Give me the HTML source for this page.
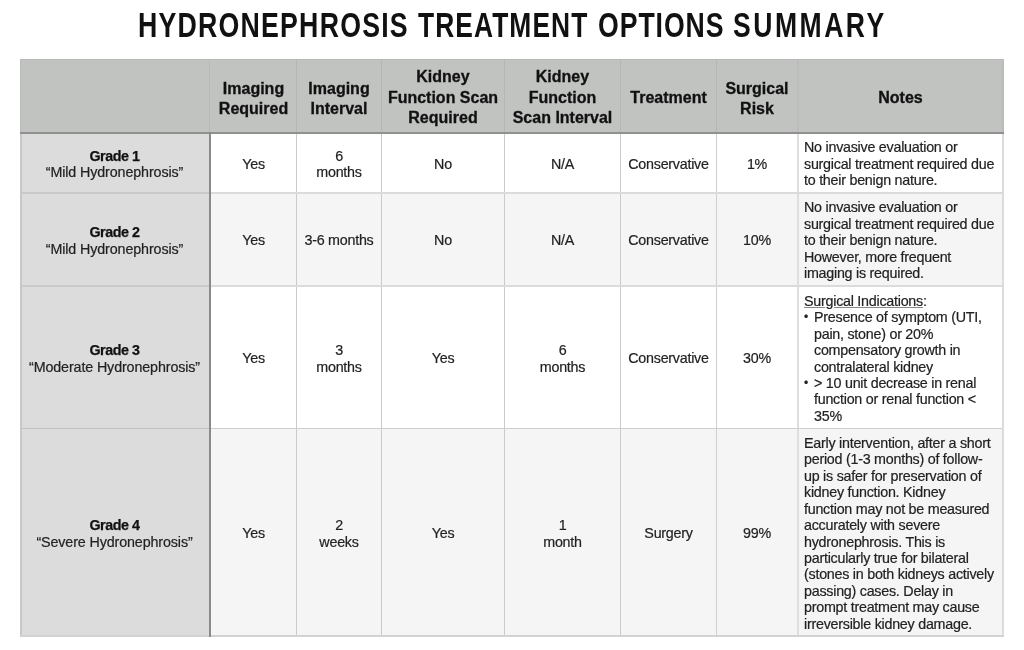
<!DOCTYPE html>
<html><head><meta charset="utf-8">
<style>
html,body{margin:0;padding:0;background:#fff;width:1024px;height:650px;overflow:hidden;position:relative;font-family:"Liberation Sans",sans-serif;-webkit-font-smoothing:antialiased;}
.tw{position:absolute;top:-0.5px;white-space:nowrap;font-weight:bold;font-size:34.5px;line-height:50px;color:#111;transform:scaleX(0.765);transform-origin:0 0;}
.bg{position:absolute;}
.ln{position:absolute;}
.c{position:absolute;display:flex;align-items:center;justify-content:center;text-align:center;color:#222;font-size:14.3px;letter-spacing:-0.25px;line-height:16.45px;-webkit-text-stroke:0.2px #222;padding-top:0px;box-sizing:border-box;}
.h{font-weight:bold;font-size:16px;letter-spacing:0;line-height:20.5px;color:#111;-webkit-text-stroke:0.3px #111;}
.n{justify-content:flex-start;text-align:left;}
.n>div{padding-left:6px;}
.bl{position:relative;padding-left:10px;}
.bu{position:absolute;left:0;top:0;font-size:12px;}
b{font-weight:bold;color:#111;letter-spacing:-0.45px;-webkit-text-stroke:0.25px #111;}
.q{letter-spacing:-0.12px;}
u{text-decoration:underline;text-decoration-color:#888;text-underline-offset:1px;}
#w{position:absolute;left:0;top:0;width:1024px;height:650px;will-change:transform;}
</style></head><body><div id="w">
<div class="tw" style="left:138.0px;letter-spacing:1.58px;transform:scaleX(0.774)">HYDRONEPHROSIS</div>
<div class="tw" style="left:418.2px;letter-spacing:1.40px">TREATMENT</div>
<div class="tw" style="left:597.5px;letter-spacing:1.23px;transform:scaleX(0.772)">OPTIONS</div>
<div class="tw" style="left:733px;letter-spacing:3.24px;transform:scaleX(0.77)">SUMMARY</div>

<!-- backgrounds -->
<div class="bg" style="left:20px;top:59px;width:984px;height:74px;background:#c1c3c1"></div>
<div class="bg" style="left:20px;top:133px;width:190px;height:504px;background:#dcdcdc"></div>
<div class="bg" style="left:211px;top:133px;width:793px;height:60px;background:#ffffff"></div>
<div class="bg" style="left:211px;top:193px;width:793px;height:93px;background:#f5f5f5"></div>
<div class="bg" style="left:211px;top:286px;width:793px;height:143px;background:#ffffff"></div>
<div class="bg" style="left:211px;top:429px;width:793px;height:208px;background:#f5f5f5"></div>

<!-- header vertical lines -->
<div class="ln" style="left:209px;top:59px;width:1px;height:74px;background:#b8b8b8"></div>
<div class="ln" style="left:296px;top:59px;width:1px;height:74px;background:#b5b5b5"></div>
<div class="ln" style="left:381px;top:59px;width:1px;height:74px;background:#b5b5b5"></div>
<div class="ln" style="left:504px;top:59px;width:1px;height:74px;background:#b5b5b5"></div>
<div class="ln" style="left:620px;top:59px;width:1px;height:74px;background:#b5b5b5"></div>
<div class="ln" style="left:716px;top:59px;width:1px;height:74px;background:#b5b5b5"></div>
<div class="ln" style="left:797px;top:59px;width:2px;height:74px;background:#bbbcbb"></div>
<!-- body vertical lines -->
<div class="ln" style="left:296px;top:133px;width:1px;height:504px;background:#cacaca"></div>
<div class="ln" style="left:381px;top:133px;width:1px;height:504px;background:#cacaca"></div>
<div class="ln" style="left:504px;top:133px;width:1px;height:504px;background:#cacaca"></div>
<div class="ln" style="left:620px;top:133px;width:1px;height:504px;background:#cacaca"></div>
<div class="ln" style="left:716px;top:133px;width:1px;height:504px;background:#cfcfcf"></div>
<div class="ln" style="left:797px;top:133px;width:2px;height:504px;background:#dedede"></div>
<!-- horizontal lines -->
<div class="ln" style="left:211px;top:192px;width:793px;height:2px;background:#dbdbdb"></div>
<div class="ln" style="left:211px;top:285px;width:793px;height:2px;background:#dbdbdb"></div>
<div class="ln" style="left:211px;top:428px;width:793px;height:1px;background:#cdcdcd"></div>
<div class="ln" style="left:20px;top:192px;width:190px;height:2px;background:#c9c9c9"></div>
<div class="ln" style="left:20px;top:285px;width:190px;height:2px;background:#c9c9c9"></div>
<div class="ln" style="left:20px;top:428px;width:190px;height:1px;background:#c2c2c2"></div>
<!-- outer edges -->
<div class="ln" style="left:20px;top:59px;width:984px;height:1px;background:#b9b9b9"></div>
<div class="ln" style="left:20px;top:133px;width:2px;height:504px;background:#c8c8c8"></div>
<div class="ln" style="left:20px;top:59px;width:1px;height:74px;background:#b9bab9"></div>
<div class="ln" style="left:1002px;top:133px;width:2px;height:504px;background:#dcdcdc"></div>
<div class="ln" style="left:1002px;top:59px;width:2px;height:74px;background:#babbba"></div>
<div class="ln" style="left:20px;top:635px;width:984px;height:2px;background:#d2d2d2"></div>
<!-- dark lines -->
<div class="ln" style="left:20px;top:132px;width:984px;height:2px;background:#909090"></div>
<div class="ln" style="left:209px;top:132px;width:2px;height:505px;background:#8a8a8a"></div>

<!-- header text -->
<div class="c h" style="left:211px;top:59px;width:85px;height:80px"><div>Imaging<br>Required</div></div>
<div class="c h" style="left:297px;top:59px;width:84px;height:80px"><div>Imaging<br>Interval</div></div>
<div class="c h" style="left:382px;top:59px;width:122px;height:78px"><div>Kidney<br>Function Scan<br>Required</div></div>
<div class="c h" style="left:505px;top:59px;width:115px;height:78px"><div>Kidney<br>Function<br>Scan Interval</div></div>
<div class="c h" style="left:621px;top:59px;width:95px;height:78px"><div>Treatment</div></div>
<div class="c h" style="left:717px;top:59px;width:80px;height:80px"><div>Surgical<br>Risk</div></div>
<div class="c h" style="left:798px;top:59px;width:205px;height:78px"><div>Notes</div></div>

<!-- row 1 -->
<div class="c" style="left:20px;top:134px;width:189px;height:60px"><div><b>Grade 1</b><br><span class="q">“Mild Hydronephrosis”</span></div></div>
<div class="c" style="left:211px;top:134px;width:85px;height:60px"><div>Yes</div></div>
<div class="c" style="left:297px;top:134px;width:84px;height:60px"><div>6<br>months</div></div>
<div class="c" style="left:382px;top:134px;width:122px;height:60px"><div>No</div></div>
<div class="c" style="left:505px;top:134px;width:115px;height:60px"><div>N/A</div></div>
<div class="c" style="left:621px;top:134px;width:95px;height:60px"><div>Conservative</div></div>
<div class="c" style="left:717px;top:134px;width:80px;height:60px"><div>1%</div></div>
<div class="c n" style="left:798px;top:134px;width:205px;height:60px"><div>No invasive evaluation or<br>surgical treatment required due<br>to their benign nature.</div></div>

<!-- row 2 -->
<div class="c" style="left:20px;top:194px;width:189px;height:93px"><div><b>Grade 2</b><br><span class="q">“Mild Hydronephrosis”</span></div></div>
<div class="c" style="left:211px;top:194px;width:85px;height:93px"><div>Yes</div></div>
<div class="c" style="left:297px;top:194px;width:84px;height:93px"><div>3-6 months</div></div>
<div class="c" style="left:382px;top:194px;width:122px;height:93px"><div>No</div></div>
<div class="c" style="left:505px;top:194px;width:115px;height:93px"><div>N/A</div></div>
<div class="c" style="left:621px;top:194px;width:95px;height:93px"><div>Conservative</div></div>
<div class="c" style="left:717px;top:194px;width:80px;height:93px"><div>10%</div></div>
<div class="c n" style="left:798px;top:194px;width:205px;height:93px"><div>No invasive evaluation or<br>surgical treatment required due<br>to their benign nature.<br>However, more frequent<br>imaging is required.</div></div>

<!-- row 3 -->
<div class="c" style="left:20px;top:287px;width:189px;height:143px"><div><b>Grade 3</b><br><span class="q">“Moderate Hydronephrosis”</span></div></div>
<div class="c" style="left:211px;top:287px;width:85px;height:143px"><div>Yes</div></div>
<div class="c" style="left:297px;top:287px;width:84px;height:143px"><div>3<br>months</div></div>
<div class="c" style="left:382px;top:287px;width:122px;height:143px"><div>Yes</div></div>
<div class="c" style="left:505px;top:287px;width:115px;height:143px"><div>6<br>months</div></div>
<div class="c" style="left:621px;top:287px;width:95px;height:143px"><div>Conservative</div></div>
<div class="c" style="left:717px;top:287px;width:80px;height:143px"><div>30%</div></div>
<div class="c n" style="left:798px;top:287px;width:205px;height:143px"><div><u>Surgical Indications</u>:<div class="bl"><span class="bu">•</span>Presence of symptom (UTI,<br>pain, stone) or 20%<br>compensatory growth in<br>contralateral kidney</div><div class="bl"><span class="bu">•</span>&gt; 10 unit decrease in renal<br>function or renal function &lt;<br>35%</div></div></div>

<!-- row 4 -->
<div class="c" style="left:20px;top:430px;width:189px;height:207px"><div><b>Grade 4</b><br><span class="q">“Severe Hydronephrosis”</span></div></div>
<div class="c" style="left:211px;top:430px;width:85px;height:207px"><div>Yes</div></div>
<div class="c" style="left:297px;top:430px;width:84px;height:207px"><div>2<br>weeks</div></div>
<div class="c" style="left:382px;top:430px;width:122px;height:207px"><div>Yes</div></div>
<div class="c" style="left:505px;top:430px;width:115px;height:207px"><div>1<br>month</div></div>
<div class="c" style="left:621px;top:430px;width:95px;height:207px"><div>Surgery</div></div>
<div class="c" style="left:717px;top:430px;width:80px;height:207px"><div>99%</div></div>
<div class="c n" style="left:798px;top:430px;width:205px;height:207px"><div>Early intervention, after a short<br>period (1-3 months) of follow-<br>up is safer for preservation of<br>kidney function. Kidney<br>function may not be measured<br>accurately with severe<br>hydronephrosis. This is<br>particularly true for bilateral<br>(stones in both kidneys actively<br>passing) cases. Delay in<br>prompt treatment may cause<br>irreversible kidney damage.</div></div>

</div></body></html>
